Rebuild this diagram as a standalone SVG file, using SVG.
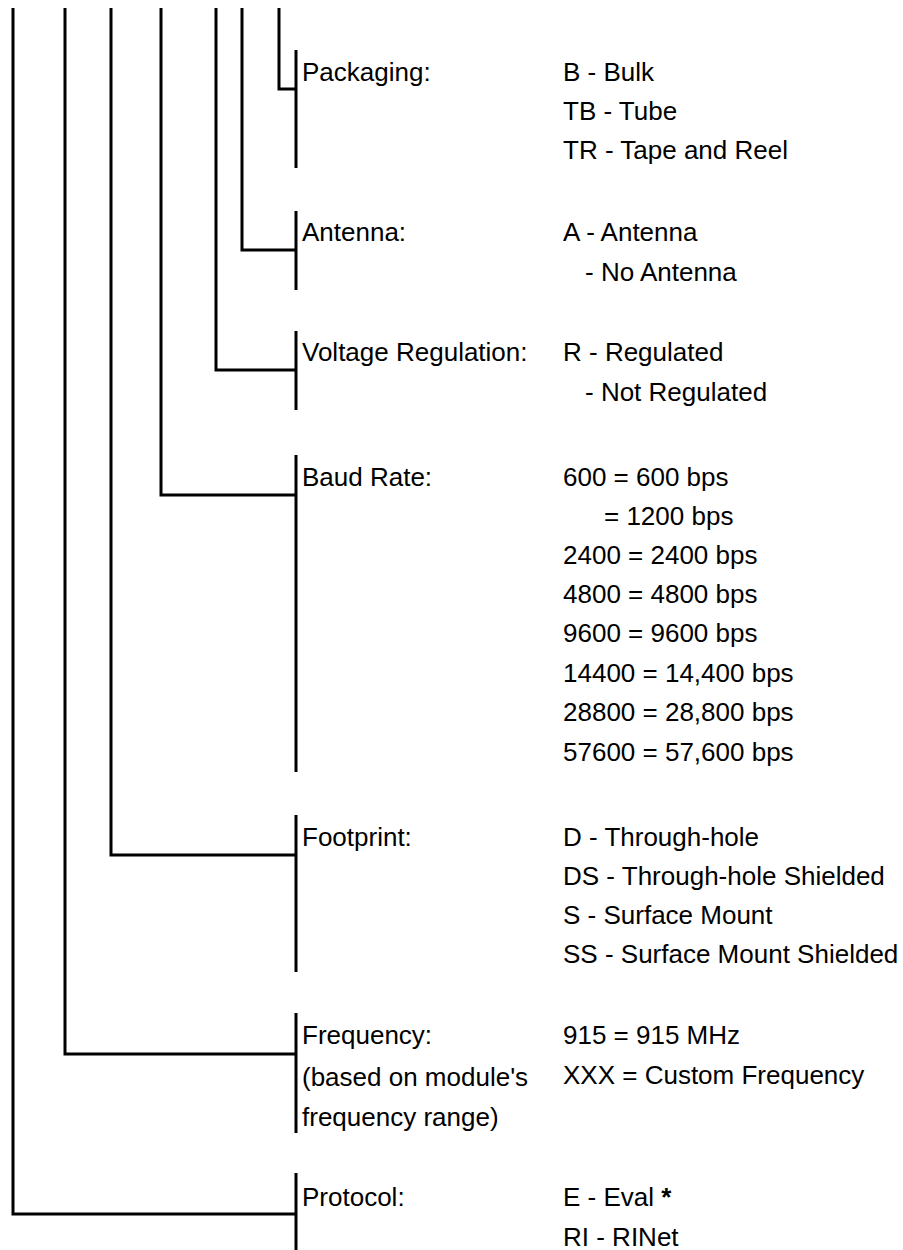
<svg xmlns="http://www.w3.org/2000/svg" width="903" height="1250" viewBox="0 0 903 1250">
<style>
text{font-family:"Liberation Sans",Arial,sans-serif;font-size:26px;fill:#000}
.c{fill:none;stroke:#000;stroke-width:3;stroke-linejoin:miter;stroke-linecap:butt}
.b{stroke:#000;stroke-width:3}
</style>
<rect width="903" height="1250" fill="#fff"/>
<g id="connectors">
<path class="c" d="M279,8V89H296"/>
<path class="c" d="M242,8V250H296"/>
<path class="c" d="M216,8V370H296"/>
<path class="c" d="M161,8V495H296"/>
<path class="c" d="M111,8V855H296"/>
<path class="c" d="M65,8V1054H296"/>
<path class="c" d="M13,8V1214H296"/>
</g>
<g id="packaging">
<line class="b" x1="296" y1="50" x2="296" y2="168"/>
<text x="302" y="81">Packaging:</text>
<text x="563" y="81">B - Bulk</text>
<text x="563" y="120">TB - Tube</text>
<text x="563" y="159">TR - Tape and Reel</text>
</g>
<g id="antenna">
<line class="b" x1="296" y1="211" x2="296" y2="290"/>
<text x="302" y="241">Antenna:</text>
<text x="563" y="241">A - Antenna</text>
<text x="585" y="281">- No Antenna</text>
</g>
<g id="voltage">
<line class="b" x1="296" y1="331" x2="296" y2="410"/>
<text x="302" y="361">Voltage Regulation:</text>
<text x="563" y="361">R - Regulated</text>
<text x="585" y="401">- Not Regulated</text>
</g>
<g id="baud">
<line class="b" x1="296" y1="455" x2="296" y2="772"/>
<text x="302" y="486">Baud Rate:</text>
<text x="563" y="486">600 = 600 bps</text>
<text x="604" y="525">= 1200 bps</text>
<text x="563" y="564">2400 = 2400 bps</text>
<text x="563" y="603">4800 = 4800 bps</text>
<text x="563" y="642">9600 = 9600 bps</text>
<text x="563" y="682">14400 = 14,400 bps</text>
<text x="563" y="721">28800 = 28,800 bps</text>
<text x="563" y="761">57600 = 57,600 bps</text>
</g>
<g id="footprint">
<line class="b" x1="296" y1="815" x2="296" y2="972"/>
<text x="302" y="846">Footprint:</text>
<text x="563" y="846">D - Through-hole</text>
<text x="563" y="885">DS - Through-hole Shielded</text>
<text x="563" y="924">S - Surface Mount</text>
<text x="563" y="963">SS - Surface Mount Shielded</text>
</g>
<g id="frequency">
<line class="b" x1="296" y1="1013" x2="296" y2="1133"/>
<text x="302" y="1044">Frequency:</text>
<text x="302" y="1086">(based on module's</text>
<text x="302" y="1126">frequency range)</text>
<text x="563" y="1044">915 = 915 MHz</text>
<text x="563" y="1084">XXX = Custom Frequency</text>
</g>
<g id="protocol">
<line class="b" x1="296" y1="1173" x2="296" y2="1250"/>
<text x="302" y="1206">Protocol:</text>
<text x="563" y="1206">E - Eval <tspan font-weight="bold">*</tspan></text>
<text x="563" y="1246">RI - RINet</text>
</g>
</svg>
